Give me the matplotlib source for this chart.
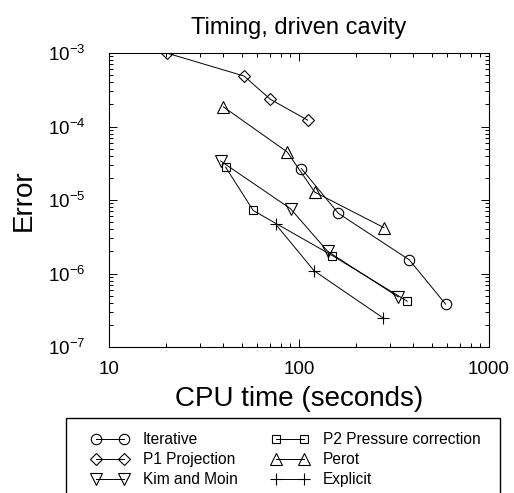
import matplotlib
matplotlib.use("Agg")
import matplotlib.pyplot as plt
from matplotlib.ticker import LogLocator, NullFormatter
from matplotlib.patches import Rectangle

plt.rcParams['font.family'] = ['Liberation Sans', 'DejaVu Sans']
plt.rcParams['mathtext.fontset'] = 'custom'
plt.rcParams['mathtext.rm'] = 'Liberation Sans'
plt.rcParams['mathtext.it'] = 'Liberation Sans:italic'

# Data (CPU seconds, error)
iter_t = [103, 161, 381, 591]
iter_e = [2.67e-5, 6.6e-6, 1.53e-6, 3.83e-7]

p1_t = [20.1, 51.4, 70.6, 111]
p1_e = [1.0e-3, 4.86e-4, 2.35e-4, 1.22e-4]

km_t = [38.7, 90.3, 141.6, 333]
km_e = [3.39e-5, 7.6e-6, 2.0e-6, 4.8e-7]

p2_t = [41.1, 57.4, 150, 371]
p2_e = [2.8e-5, 7.2e-6, 1.75e-6, 4.2e-7]

perot_t = [40, 86.7, 121, 280]
perot_e = [1.85e-4, 4.5e-5, 1.28e-5, 4.2e-6]

expl_t = [75.3, 120, 278]
expl_e = [4.7e-6, 1.09e-6, 2.47e-7]

labels = ["Iterative", "P1 Projection", "Kim and Moin",
          "P2 Pressure correction", "Perot", "Explicit"]

W, H = 514, 493
fig = plt.figure(figsize=(W/100, H/100), dpi=100)
ax = fig.add_axes([109/W, 1-347/H, (489-109)/W, (347-53)/H])

kw = dict(color='black', lw=0.7, mfc='none', mec='black', mew=0.8)
h1, = ax.plot(iter_t, iter_e, marker='o', ms=7.5, label=labels[0], **kw)
h2, = ax.plot(p1_t, p1_e, marker='D', ms=5.8, label=labels[1], **kw)
h3, = ax.plot(km_t, km_e, marker='v', ms=8, label=labels[2], **kw)
h4, = ax.plot(p2_t, p2_e, marker='s', ms=6.3, label=labels[3], **kw)
h5, = ax.plot(perot_t, perot_e, marker='^', ms=8, label=labels[4], **kw)
h6, = ax.plot(expl_t, expl_e, marker='+', ms=8, label=labels[5], **kw)

ax.set_xscale('log')
ax.set_yscale('log')
ax.set_xlim(10, 1000)
ax.set_ylim(1e-7, 1e-3)
ax.xaxis.set_minor_locator(LogLocator(base=10, subs=range(2, 10), numticks=20))
ax.xaxis.set_minor_formatter(NullFormatter())
ax.set_xticks([10, 100, 1000])
ax.set_xticklabels(['10', '100', '1000'])
ax.yaxis.set_minor_locator(LogLocator(base=10, subs=range(2, 10), numticks=20))
ax.yaxis.set_minor_formatter(NullFormatter())
ax.tick_params(which='both', direction='in', top=True, right=True, labelsize=13.5, width=0.7)
ax.tick_params(which='major', length=6)
ax.tick_params(which='minor', length=3)
ax.tick_params(axis='x', which='major', pad=10)
ax.tick_params(axis='y', which='major', pad=17)
for s in ax.spines.values():
    s.set_linewidth(0.8)

ax.set_title("Timing, driven cavity", fontsize=17, pad=14)
ax.set_xlabel("CPU time (seconds)", fontsize=20, labelpad=5.5)
ax.set_ylabel("Error", fontsize=20, labelpad=8)

fs = 11.2
leg = fig.legend(handles=[h1, h2, h3, h4, h5, h6], loc='upper left',
                 bbox_to_anchor=(91/W, 1-432/H),
                 ncol=2, numpoints=2, handlelength=2.4,
                 fontsize=fs, frameon=False,
                 borderaxespad=0, borderpad=0, handletextpad=0.93,
                 labelspacing=0.32, columnspacing=2.17)

fig.add_artist(Rectangle((66/W, 1-500/H), (500-66)/W, (500-418)/H,
                         transform=fig.transFigure, fill=False,
                         edgecolor='black', lw=1.0, clip_on=False))

fig.savefig("out.png", dpi=100)
